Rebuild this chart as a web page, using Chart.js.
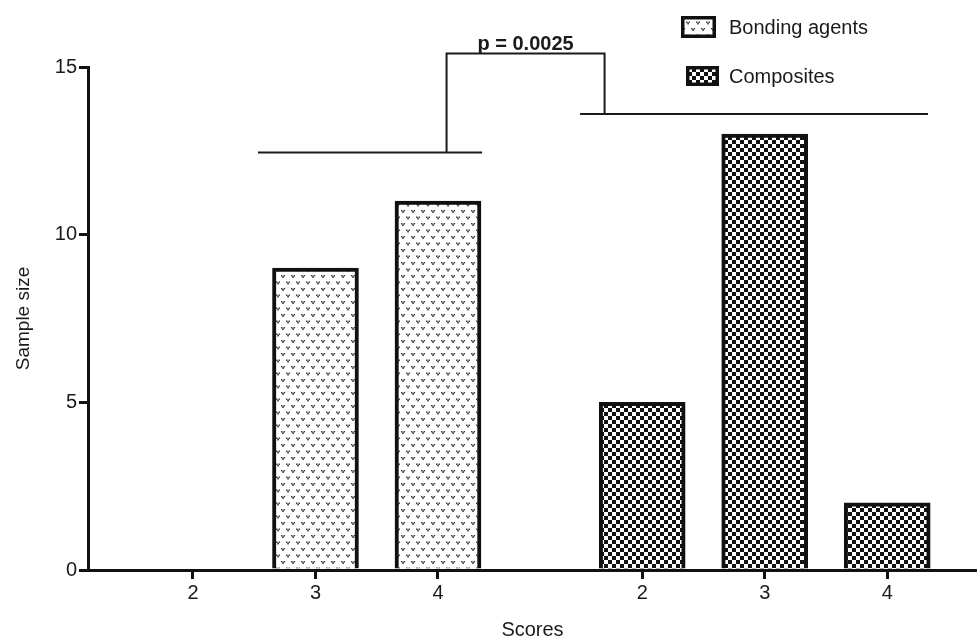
<!DOCTYPE html>
<html><head><meta charset="utf-8">
<script src="https://cdn.jsdelivr.net/npm/chart.js@4"></script>
<style>html,body{margin:0;padding:0;background:#fff}#w{width:977px;height:642px;position:relative}</style>
</head><body><div id="w"><canvas id="c"></canvas></div>
<script>
// ---- data ----
const tickLabels = ['2','3','4','2','3','4'];
const groupNames = ['Bonding agents','Composites'];
const bondingValues = [0, 9, 11];
const compositeValues = [5, 13, 2];
const yTicks = [0, 5, 10, 15];
const pValueText = 'p = 0.0025';
const bracketLevels = [12.45, 13.6, 15.4]; // bonding line, composites line, bracket top (y units)

// ---- layout helpers (slot units on x) ----
const GROUP_OFFSET = 3.667;
const slot = (g, i) => g * GROUP_OFFSET + i;
const tickPositions = [0,1,2].map(i=>slot(0,i)).concat([0,1,2].map(i=>slot(1,i)));

function bondingPattern(){
  const c=document.createElement('canvas');c.width=10;c.height=13;
  const x=c.getContext('2d');x.fillStyle='#fff';x.fillRect(0,0,10,13);
  x.fillStyle='#3a3a3a';
  const mark=(a,b)=>{x.fillRect(a,b,1.5,1.4);x.fillRect(a+2.6,b,1.5,1.4);x.fillRect(a+1.2,b+1.2,1.7,1.7);};
  mark(1,2); mark(6,8.5);
  return x.createPattern(c,'repeat');
}
function checkerPattern(){
  const c=document.createElement('canvas');c.width=8;c.height=8;
  const x=c.getContext('2d');x.fillStyle='#fff';x.fillRect(0,0,8,8);
  x.fillStyle='#111';x.fillRect(0,0,4,4);x.fillRect(4,4,4,4);
  return x.createPattern(c,'repeat');
}
const patB = bondingPattern(), patC = checkerPattern();
const FONT = '"Liberation Sans", Arial, sans-serif';
const TXT = '#1a1a1a';

const overlay = {
  id:'overlay',
  afterDraw(chart){
    const {ctx, scales:{x,y}} = chart;
    ctx.save();
    ctx.strokeStyle='#1a1a1a'; ctx.lineWidth=2; ctx.lineCap='butt';
    const X=v=>x.getPixelForValue(v), Y=v=>y.getPixelForValue(v);
    ctx.beginPath();
    ctx.moveTo(X(0.53),Y(bracketLevels[0])); ctx.lineTo(X(2.36),Y(bracketLevels[0]));
    ctx.moveTo(X(3.16),Y(bracketLevels[1])); ctx.lineTo(X(6.0),Y(bracketLevels[1]));
    ctx.moveTo(X(2.07),Y(bracketLevels[0])); ctx.lineTo(X(2.07),Y(bracketLevels[2]));
    ctx.lineTo(X(3.36),Y(bracketLevels[2])); ctx.lineTo(X(3.36),Y(bracketLevels[1]));
    ctx.stroke();
    ctx.fillStyle=TXT; ctx.font='bold 20px '+FONT; ctx.textAlign='center'; ctx.textBaseline='alphabetic';
    ctx.fillText(pValueText, (X(2.07)+X(3.36))/2, Y(bracketLevels[2])-4);
    // legend
    const items=[{pat:patB,box:[681,16,35,22],ty:28},{pat:patC,box:[686,66,33,20],ty:77}];
    items.forEach((it,i)=>{
      const [bx,by,bw,bh]=it.box;
      ctx.fillStyle='#111'; ctx.fillRect(bx,by,bw,bh);
      ctx.fillStyle=it.pat; ctx.fillRect(bx+3.5,by+3.5,bw-7,bh-7);
      ctx.fillStyle=TXT; ctx.font='20px '+FONT; ctx.textAlign='left'; ctx.textBaseline='middle';
      ctx.fillText(groupNames[i], 729, it.ty);
    });
    ctx.restore();
  }
};

new Chart(document.getElementById('c'), {
  type:'bar',
  data:{datasets:[
    {label:groupNames[0], data:bondingValues.map((v,i)=>({x:slot(0,i),y:v})), backgroundColor:patB, borderColor:'#111', borderWidth:4, borderSkipped:'start', barThickness:86, grouped:false},
    {label:groupNames[1], data:compositeValues.map((v,i)=>({x:slot(1,i),y:v})), backgroundColor:patC, borderColor:'#111', borderWidth:4, borderSkipped:'start', barThickness:86, grouped:false}
  ]},
  options:{
    responsive:true, maintainAspectRatio:false, animation:false,
    layout:{padding:{top:67,left:0,right:0,bottom:0}},
    plugins:{legend:{display:false},tooltip:{enabled:false}},
    scales:{
      x:{type:'linear', min:-0.857, max:6.4, offset:false,
        afterBuildTicks(s){s.ticks=tickPositions.map(v=>({value:v}));},
        afterFit(s){s.height=72;},
        ticks:{autoSkip:false, maxRotation:0, color:TXT, font:{family:FONT,size:20}, padding:2,
          callback:(v,i)=>tickLabels[i]},
        grid:{display:true, offset:false, drawOnChartArea:false, drawTicks:true, tickLength:9, lineWidth:3, color:'#111'},
        border:{display:true, width:3, color:'#111'},
        title:{display:true, text:'Scores', color:TXT, font:{family:FONT,size:20}, padding:{top:0,bottom:0}}
      },
      y:{min:0, max:15,
        afterBuildTicks(s){s.ticks=yTicks.map(v=>({value:v}));},
        afterFit(s){s.width=88;},
        ticks:{color:TXT, font:{family:FONT,size:20}, padding:2},
        grid:{display:true, drawOnChartArea:false, drawTicks:true, tickLength:9, lineWidth:3, color:'#111'},
        border:{display:true, width:3, color:'#111'},
        title:{display:true, text:'Sample size', color:TXT, font:{family:FONT,size:19}, padding:{top:12,bottom:0}}
      }
    }
  },
  plugins:[overlay]
});
</script></body></html>
